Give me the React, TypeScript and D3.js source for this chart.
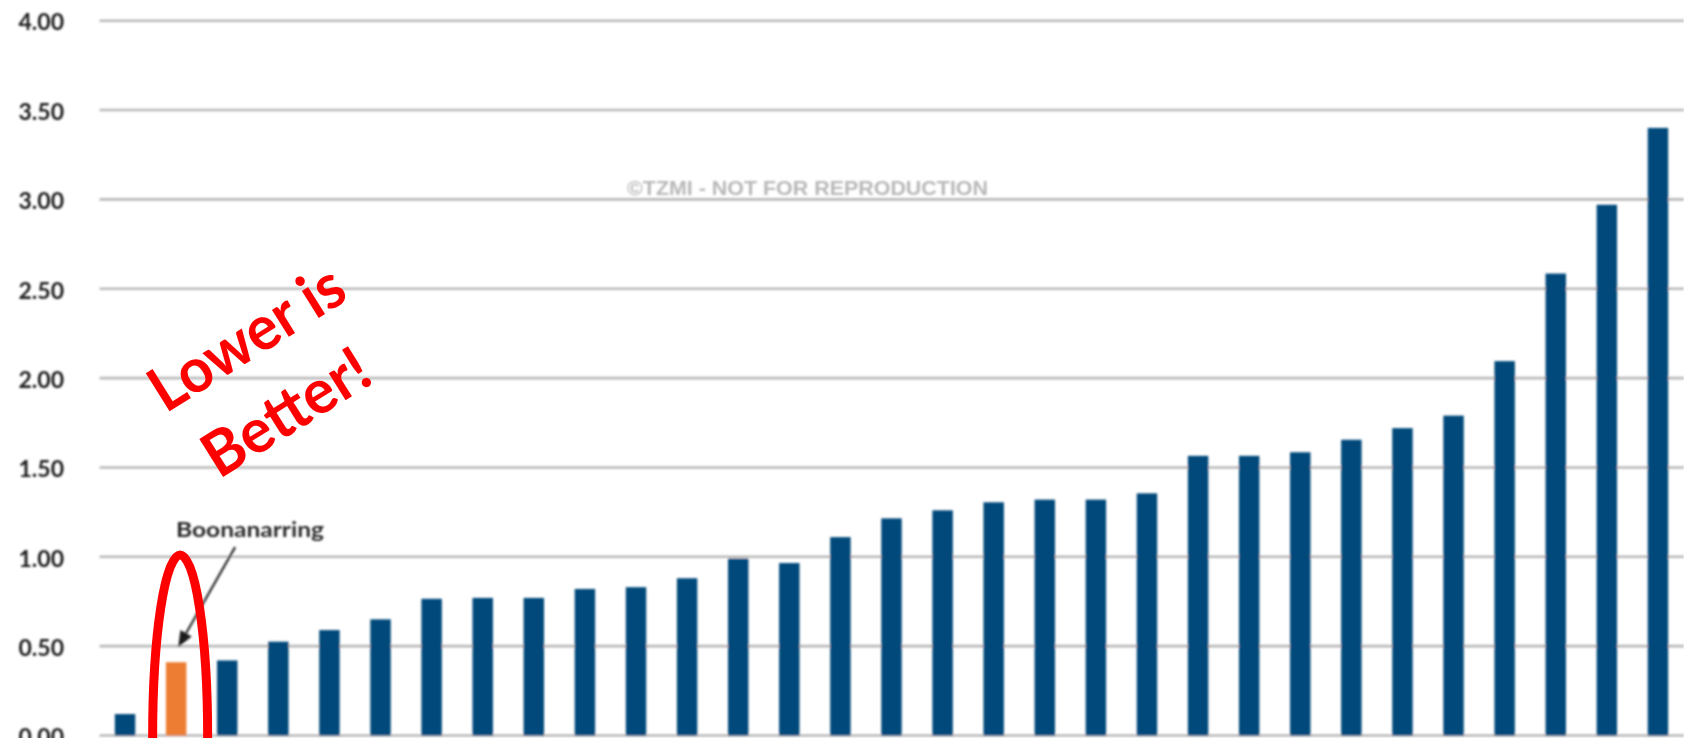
import React from "react";
import * as d3 from "d3";

// Cost per site, sorted ascending; one highlighted operation
const CATEGORIES: string[] = [
  "Site 01", "Boonanarring", "Site 03", "Site 04", "Site 05", "Site 06", "Site 07", "Site 08",
  "Site 09", "Site 10", "Site 11", "Site 12", "Site 13", "Site 14", "Site 15", "Site 16",
  "Site 17", "Site 18", "Site 19", "Site 20", "Site 21", "Site 22", "Site 23", "Site 24",
  "Site 25", "Site 26", "Site 27", "Site 28", "Site 29", "Site 30", "Site 31",
];

const VALUES: number[] = [
  0.12, 0.41, 0.42, 0.525, 0.59, 0.65, 0.765, 0.77, 0.77, 0.82, 0.83, 0.88, 0.99, 0.965,
  1.11, 1.215, 1.26, 1.305, 1.32, 1.32, 1.355, 1.565, 1.565, 1.585, 1.655, 1.72, 1.79,
  2.095, 2.585, 2.97, 3.4,
];

const Y_TICKS: number[] = [0, 0.5, 1, 1.5, 2, 2.5, 3, 3.5, 4];

const HIGHLIGHT = "Boonanarring";
const WATERMARK = "©TZMI - NOT FOR REPRODUCTION";
const CALLOUT_LINES: string[] = ["Lower is", "Better!"];

const W = 1684;
const H = 738;

const NAVY = "#06497a";
const ORANGE = "#ed7d31";
const GRID = "#b9b9b9";
const RED = "#ff0000";

export default function App() {
  const x = d3
    .scaleBand<string>()
    .domain(CATEGORIES)
    .range([99.5, 1683.5])
    .paddingInner(0.6)
    .paddingOuter(0.3);

  const y = d3.scaleLinear().domain([0, 4]).range([735.5, 20.7]);
  const fmt = d3.format(".2f");

  const hx = (x(HIGHLIGHT) ?? 0) + x.bandwidth() / 2;
  const tip: [number, number] = [hx + 2, y(0.5) + 1];
  const tail: [number, number] = [hx + 59, y(0.5) - 99];
  const ang = Math.atan2(tip[1] - tail[1], tip[0] - tail[0]);
  const headLen = 16;
  const headHalf = 6.5;
  const bx = tip[0] - headLen * Math.cos(ang);
  const by = tip[1] - headLen * Math.sin(ang);
  const head = [
    [tip[0], tip[1]],
    [bx + headHalf * Math.sin(ang), by - headHalf * Math.cos(ang)],
    [bx - headHalf * Math.sin(ang), by + headHalf * Math.cos(ang)],
  ]
    .map((p) => p.join(","))
    .join(" ");

  return (
    <svg
      width={W}
      height={H}
      viewBox={`0 0 ${W} ${H}`}
      style={{ position: "fixed", left: 0, top: 0, display: "block", background: "#fff" }}
    >
      <defs>
        <filter id="soft" x="-5%" y="-5%" width="110%" height="110%">
          <feGaussianBlur stdDeviation="0.8" />
        </filter>
      </defs>
      <rect width={W} height={H} fill="#fff" />

      <g filter="url(#soft)">
        {/* gridlines */}
        {Y_TICKS.map((t) => (
          <line
            key={`g${t}`}
            x1={99.5}
            x2={W}
            y1={y(t)}
            y2={y(t)}
            stroke={GRID}
            strokeWidth={2.6}
          />
        ))}

        {/* y-axis labels */}
        {Y_TICKS.map((t) => (
          <text
            key={`t${t}`}
            x={64}
            y={y(t) + 1.5}
            dy="0.36em"
            textAnchor="end"
            fontFamily="Lato, 'Open Sans', sans-serif"
            fontWeight={700}
            fontSize={23}
            fill="#1f1f1f"
          >
            {fmt(t)}
          </text>
        ))}

        <text
          x={627}
          y={195}
          textLength={361}
          lengthAdjust="spacingAndGlyphs"
          fontFamily="'Liberation Sans', Arial, sans-serif"
          fontWeight={700}
          fontSize={19.5}
          fill="#b8b8b8"
        >
          {WATERMARK}
        </text>

        {/* bars */}
        {CATEGORIES.map((c, i) => (
          <rect
            key={c}
            x={x(c)}
            y={y(VALUES[i])}
            width={x.bandwidth()}
            height={y(0) - y(VALUES[i])}
            fill={c === HIGHLIGHT ? ORANGE : NAVY}
          />
        ))}

        {/* highlighted site label and arrow */}
        <text
          x={250}
          y={537}
          textAnchor="middle"
          textLength={148}
          lengthAdjust="spacingAndGlyphs"
          fontFamily="Lato, 'Open Sans', sans-serif"
          fontWeight={700}
          fontSize={21}
          fill="#2b2b2b"
        >
          {HIGHLIGHT}
        </text>
        <line x1={tail[0]} y1={tail[1]} x2={bx} y2={by} stroke="#2b2b2b" strokeWidth={2.2} />
        <polygon points={head} fill="#1f1f1f" />
      </g>

      {/* hand-drawn emphasis */}
      <ellipse cx={hx + 4} cy={736} rx={27.5} ry={181} fill="none" stroke={RED} strokeWidth={9} />
      <g transform="translate(258,356) rotate(-32)">
        {CALLOUT_LINES.map((s, i) => (
          <text
            key={s}
            x={i === 0 ? 0 : -6}
            y={i * 84}
            textAnchor="middle"
            textLength={i === 0 ? 218 : 185}
            lengthAdjust="spacingAndGlyphs"
            fontFamily="Lato, 'Open Sans', sans-serif"
            fontWeight={700}
            fontSize={62}
            fill={RED}
          >
            {s}
          </text>
        ))}
      </g>
    </svg>
  );
}
